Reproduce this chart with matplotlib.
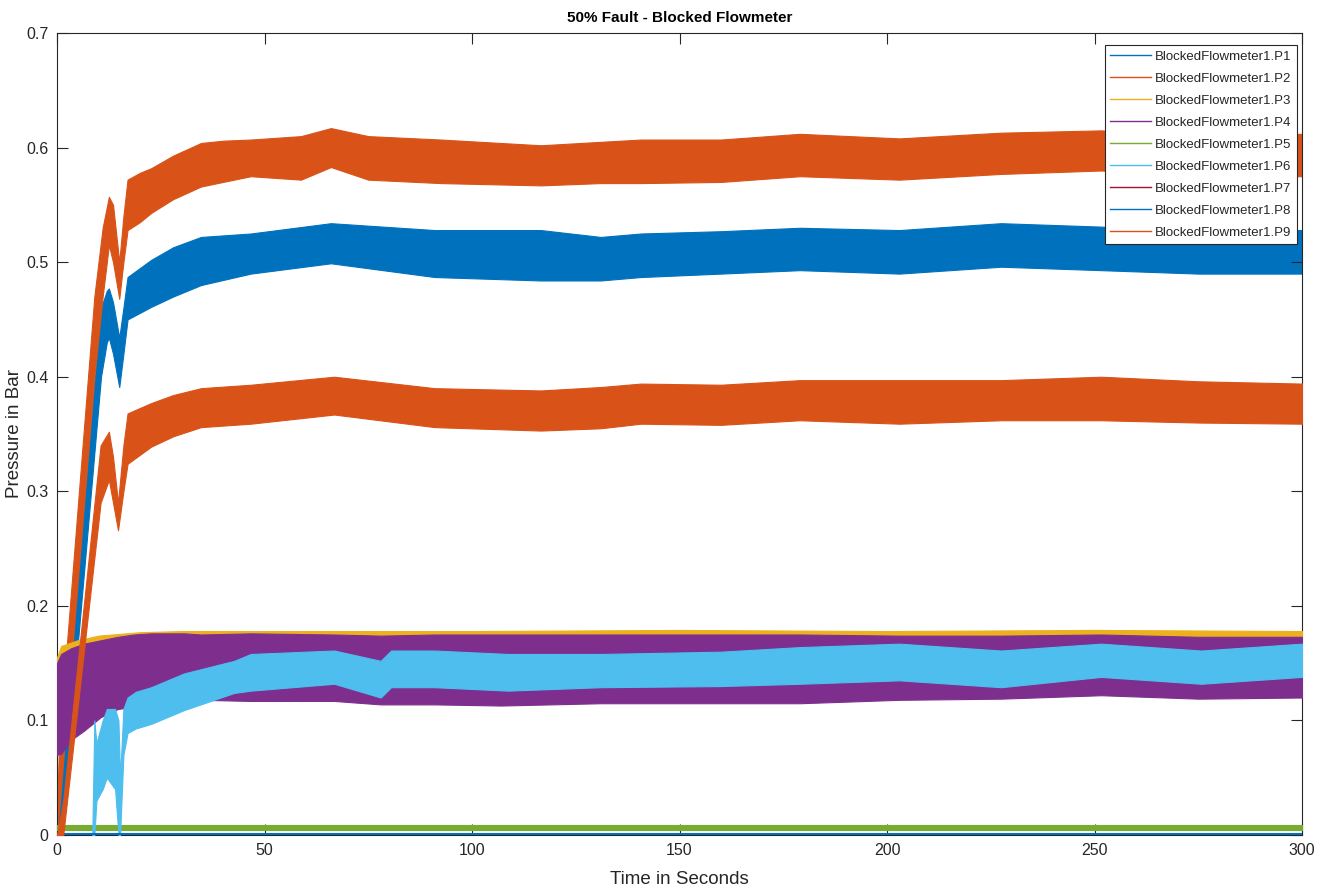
import matplotlib
matplotlib.use("Agg")
import matplotlib.pyplot as plt
from matplotlib.lines import Line2D

plt.rcParams['font.family'] = ['Liberation Sans', 'DejaVu Sans']

title = "50% Fault - Blocked Flowmeter"
xlabel = "Time in Seconds"
ylabel = "Pressure in Bar"
labels = [f"BlockedFlowmeter1.P{i}" for i in range(1, 10)]
colors = ["#0072BD", "#D95319", "#EDB120", "#7E2F8E", "#77AC30",
          "#4DBEEE", "#A2142F", "#0072BD", "#D95319"]
xticks = [0, 50, 100, 150, 200, 250, 300]
yticks = [0, 0.1, 0.2, 0.3, 0.4, 0.5, 0.6, 0.7]
ytick_labels = ["0", "0.1", "0.2", "0.3", "0.4", "0.5", "0.6", "0.7"]

# Envelopes (lower / upper) of each noisy signal
p1_t = [0, 0.5, 1, 10.6, 12, 12.5, 13.5, 15, 16, 17, 22.7, 28, 34.7, 46.7, 66, 91, 116.6, 131, 140.7, 160, 179, 203, 227.5, 251.6, 275, 300]
p1_hi = [0.02, 0.03, 0.06, 0.46, 0.475, 0.477, 0.465, 0.434, 0.46, 0.487, 0.502, 0.513, 0.522, 0.525, 0.534, 0.528, 0.528, 0.522, 0.525, 0.527, 0.530, 0.528, 0.534, 0.531, 0.528, 0.528]
p1_lo = [0.0, 0.0, 0.0, 0.40, 0.43, 0.434, 0.42, 0.391, 0.42, 0.45, 0.461, 0.470, 0.480, 0.490, 0.499, 0.487, 0.484, 0.484, 0.487, 0.490, 0.493, 0.490, 0.496, 0.493, 0.490, 0.490]

p2_t = [0, 0.5, 9, 11, 12.5, 13.5, 15, 16, 17, 20, 22.7, 28, 34.7, 40, 46.7, 58.8, 66, 75, 92.5, 116.6, 131, 140.7, 160, 179, 203, 227.5, 251.6, 275, 300]
p2_hi = [0.02, 0.08, 0.47, 0.53, 0.557, 0.55, 0.50, 0.54, 0.572, 0.578, 0.582, 0.593, 0.604, 0.606, 0.607, 0.610, 0.617, 0.610, 0.607, 0.602, 0.605, 0.607, 0.607, 0.612, 0.608, 0.613, 0.615, 0.610, 0.612]
p2_lo = [0.0, 0.02, 0.40, 0.47, 0.515, 0.50, 0.468, 0.50, 0.528, 0.535, 0.543, 0.555, 0.566, 0.570, 0.575, 0.572, 0.583, 0.572, 0.569, 0.567, 0.569, 0.569, 0.570, 0.575, 0.572, 0.577, 0.580, 0.575, 0.575]

p3_t = [0, 1, 5, 10, 20, 30, 50, 100, 150, 200, 250, 300]
p3_hi = [0.155, 0.165, 0.170, 0.174, 0.177, 0.178, 0.178, 0.178, 0.179, 0.178, 0.179, 0.178]
p3_lo = [0.140, 0.150, 0.155, 0.160, 0.165, 0.165, 0.165, 0.165, 0.165, 0.165, 0.165, 0.165]

p4_t = [0, 1, 3.4, 6.5, 10.6, 14.7, 18.6, 22.7, 30.6, 34.7, 46.7, 66.8, 78, 91, 107, 131, 160, 179, 203, 227.5, 251.6, 275, 300]
p4_hi = [0.150, 0.158, 0.163, 0.167, 0.170, 0.173, 0.175, 0.176, 0.176, 0.175, 0.176, 0.175, 0.174, 0.175, 0.175, 0.175, 0.175, 0.175, 0.174, 0.174, 0.175, 0.173, 0.173]
p4_lo = [0.070, 0.071, 0.083, 0.091, 0.103, 0.110, 0.112, 0.114, 0.116, 0.118, 0.117, 0.117, 0.114, 0.114, 0.113, 0.115, 0.115, 0.115, 0.118, 0.119, 0.122, 0.119, 0.120]

p5_t = [0, 300]
p5_hi = [0.009, 0.009]
p5_lo = [0.004, 0.004]

p6_t = [8.5, 9, 9.5, 11, 12, 14, 14.8, 15.2, 16, 17, 19, 22.7, 30.6, 42.7, 46.7, 66.8, 78, 80.5, 91, 108.7, 131, 160, 179, 203, 227.5, 251.6, 275.7, 300]
p6_hi = [0.0, 0.10, 0.08, 0.10, 0.11, 0.11, 0.10, 0.05, 0.11, 0.12, 0.125, 0.129, 0.141, 0.152, 0.158, 0.161, 0.152, 0.161, 0.161, 0.158, 0.158, 0.160, 0.164, 0.167, 0.161, 0.167, 0.161, 0.167]
p6_lo = [0.0, 0.0, 0.03, 0.04, 0.05, 0.04, 0.0, 0.0, 0.07, 0.089, 0.093, 0.097, 0.109, 0.124, 0.126, 0.132, 0.120, 0.129, 0.129, 0.126, 0.129, 0.130, 0.132, 0.135, 0.129, 0.138, 0.132, 0.138]

p7_t = [0, 300]
p7_v = [0.0, 0.0]

p8_t = [0, 300]
p8_v = [0.001, 0.001]

p9_t = [0, 1.5, 10.5, 12.5, 13.5, 14.7, 16, 17, 22.7, 28, 34.7, 46.7, 66.8, 91, 116.6, 131, 140.7, 160, 179, 203, 227.5, 251.6, 275, 300]
p9_hi = [0.0, 0.03, 0.34, 0.352, 0.33, 0.29, 0.34, 0.368, 0.377, 0.384, 0.390, 0.393, 0.400, 0.390, 0.388, 0.391, 0.394, 0.393, 0.397, 0.397, 0.397, 0.400, 0.396, 0.394]
p9_lo = [0.0, 0.0, 0.29, 0.31, 0.29, 0.266, 0.30, 0.324, 0.339, 0.348, 0.356, 0.359, 0.367, 0.356, 0.353, 0.355, 0.359, 0.358, 0.362, 0.359, 0.362, 0.362, 0.360, 0.359]

fig = plt.figure(figsize=(13.26, 8.89), dpi=100)
ax = fig.add_axes([57/1326, 54/889, 1245/1326, 802/889])

bands = {1: (p1_t, p1_lo, p1_hi), 2: (p2_t, p2_lo, p2_hi), 3: (p3_t, p3_lo, p3_hi),
         4: (p4_t, p4_lo, p4_hi), 5: (p5_t, p5_lo, p5_hi), 6: (p6_t, p6_lo, p6_hi),
         9: (p9_t, p9_lo, p9_hi)}
lines = {7: (p7_t, p7_v), 8: (p8_t, p8_v)}

for i in range(1, 10):
    c = colors[i - 1]
    if i in bands:
        t, lo, hi = bands[i]
        ax.fill_between(t, lo, hi, color=c, lw=0.8, edgecolor=c, zorder=i)
    else:
        t, v = lines[i]
        ax.plot(t, v, color=c, lw=1.5, zorder=i)

ax.set_xlim(0, 300)
ax.set_ylim(0, 0.7)
ax.set_xticks(xticks)
ax.set_xticklabels([str(x) for x in xticks])
ax.set_yticks(yticks)
ax.set_yticklabels(ytick_labels)
gray = "#262626"
ax.tick_params(direction="in", length=8, width=0.8, colors=gray, labelsize=11.5,
               top=True, right=True, pad=6)
for s in ax.spines.values():
    s.set_color(gray)
    s.set_linewidth(0.8)

ax.set_title(title, fontsize=11, fontweight="bold", pad=8)
ax.set_xlabel(xlabel, fontsize=13.5, color=gray, labelpad=9)
ax.set_ylabel(ylabel, fontsize=13.5, color=gray)
ax.yaxis.set_label_coords(-0.0275, 0.5)

handles = [Line2D([0], [0], color=colors[i], lw=1.0) for i in range(9)]
leg = fig.legend(handles, labels, loc="upper right",
                 bbox_to_anchor=(1297/1326, 1 - 45/889), fontsize=9.5,
                 frameon=True, fancybox=False, framealpha=1, edgecolor=gray,
                 handlelength=3.1, borderaxespad=0.0, labelspacing=0.74,
                 handletextpad=0.3, borderpad=0.4)
leg.get_frame().set_linewidth(0.8)
for txt in leg.get_texts():
    txt.set_color(gray)

fig.savefig("out.png", dpi=100)
